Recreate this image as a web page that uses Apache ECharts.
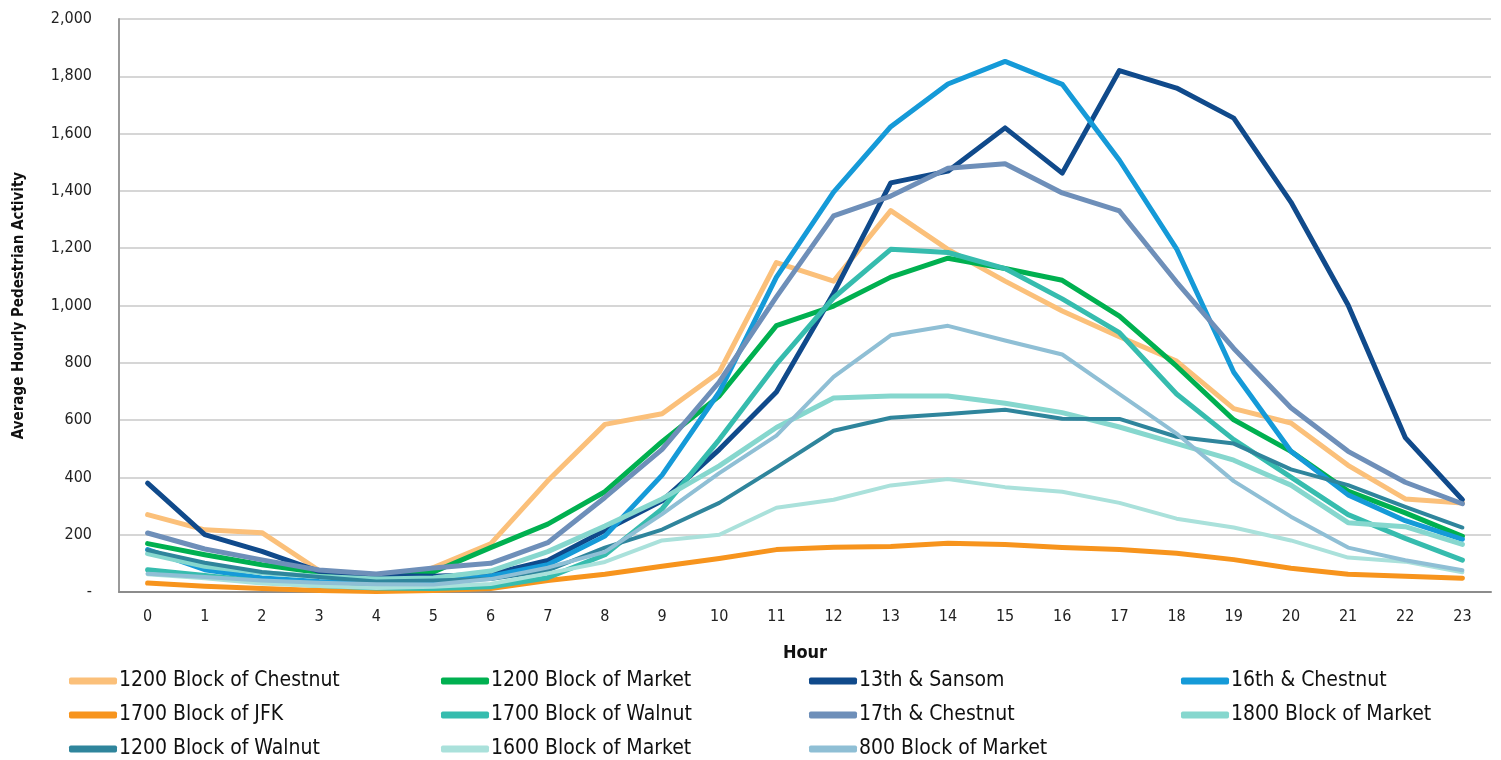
<!DOCTYPE html>
<html>
<head>
<meta charset="utf-8">
<script src="https://cdn.jsdelivr.net/npm/echarts@6/dist/echarts.min.js"></script>
<style>
  html, body { margin: 0; padding: 0; background: #fff; }
  #chart { width: 1501px; height: 760px; }
</style>
</head>
<body>
<div id="chart"></div>
<script>
// hours on the x axis
const hours = ['0','1','2','3','4','5','6','7','8','9','10','11','12','13','14','15','16','17','18','19','20','21','22','23'];

// average hourly pedestrian counts
const chestnut1200 = [270, 217, 207, 75, 5, 85, 168, 388, 585, 622, 767, 1150, 1085, 1331, 1196, 1085, 981, 891, 806, 640, 590, 442, 325, 311];
const market1200   = [169, 130, 95, 68, 49, 70, 155, 237, 350, 525, 684, 930, 998, 1099, 1165, 1129, 1088, 963, 788, 601, 491, 352, 276, 194];
const sansom13     = [380, 200, 142, 72, 58, 55, 62, 110, 215, 318, 497, 698, 1043, 1428, 1469, 1620, 1462, 1820, 1759, 1654, 1361, 1002, 539, 322];
const chestnut16   = [148, 78, 49, 37, 31, 37, 55, 95, 195, 408, 698, 1099, 1396, 1624, 1773, 1852, 1772, 1507, 1198, 767, 491, 339, 249, 184];
const jfk1700      = [31, 20, 12, 5, 2, 5, 12, 40, 62, 90, 117, 148, 156, 159, 170, 166, 155, 148, 135, 113, 83, 62, 55, 48];
const walnut1700   = [78, 58, 37, 23, 14, 12, 18, 50, 130, 290, 532, 795, 1027, 1196, 1185, 1129, 1023, 905, 691, 532, 401, 270, 187, 111];
const chestnut17   = [206, 150, 112, 77, 63, 84, 100, 172, 330, 498, 733, 1030, 1313, 1382, 1479, 1495, 1393, 1330, 1082, 850, 643, 491, 383, 308];
const market1800   = [134, 90, 67, 54, 45, 49, 73, 141, 230, 325, 440, 574, 677, 684, 684, 659, 626, 576, 518, 460, 373, 242, 228, 166];
const walnut1200   = [146, 102, 70, 52, 37, 40, 45, 75, 155, 218, 311, 435, 563, 608, 621, 636, 605, 604, 542, 518, 428, 373, 297, 225];
const market1600   = [62, 48, 30, 21, 14, 18, 28, 65, 105, 180, 200, 294, 322, 372, 394, 366, 350, 311, 256, 225, 180, 120, 106, 69];
const market800    = [64, 52, 40, 32, 27, 26, 45, 85, 140, 272, 415, 546, 751, 896, 929, 878, 829, 691, 553, 387, 263, 155, 111, 76];

const FONT = '"DejaVu Sans Condensed", "Liberation Sans Narrow", "Roboto", sans-serif';

// name, data, colour, width
const lines = [
    ['1200 Block of Chestnut', chestnut1200, '#FBC07A', 5],
    ['1200 Block of Market', market1200, '#00B050', 5],
    ['13th & Sansom', sansom13, '#104A8B', 5],
    ['16th & Chestnut', chestnut16, '#159AD8', 5],
    ['1700 Block of JFK', jfk1700, '#F7941D', 5],
    ['1700 Block of Walnut', walnut1700, '#36BCAE', 5],
    ['17th & Chestnut', chestnut17, '#6E8FB9', 5],
    ['1800 Block of Market', market1800, '#86D7CE', 5],
    ['1200 Block of Walnut', walnut1200, '#2F859C', 4],
    ['1600 Block of Market', market1600, '#AAE1DB', 4],
    ['800 Block of Market', market800, '#8FBFD5', 4],
];

const myChart = echarts.init(document.getElementById('chart'));

// legend is laid out in 4 columns, filled row by row
const legendCols = [[], [], [], []];
lines.forEach((l, i) => legendCols[i % 4].push(l[0]));
const legendLeft = [69, 441, 809, 1181];

const options = {
    animation: false,
    grid: {
        left: 119,
        right: 10,
        top: 19,
        bottom: 168,
    },
    xAxis: {
        type: 'category',
        data: hours,
        boundaryGap: true,
        name: 'Hour',
        nameLocation: 'middle',
        nameGap: 52,
        nameTextStyle: {
            fontFamily: FONT,
            fontSize: 18,
            fontWeight: 'bold',
            color: '#111',
        },
        axisLine: {
            show: true,
            lineStyle: { color: '#8C8C8C', width: 2 },
        },
        axisTick: { show: false },
        axisLabel: {
            margin: 17,
            fontFamily: FONT,
            fontSize: 16,
            color: '#222',
        },
    },
    yAxis: {
        type: 'value',
        min: 0,
        max: 2000,
        interval: 200,
        name: 'Average Hourly Pedestrian Activity',
        nameLocation: 'middle',
        nameGap: 92,
        nameTextStyle: {
            fontFamily: FONT,
            fontSize: 15,
            fontWeight: 'bold',
            color: '#111',
        },
        axisLine: {
            show: true,
            lineStyle: { color: '#9A9A9A', width: 2 },
        },
        axisTick: { show: false },
        splitLine: {
            show: true,
            lineStyle: { color: '#C9C9C9', width: 1.5 },
        },
        axisLabel: {
            margin: 27,
            fontFamily: FONT,
            fontSize: 16,
            color: '#222',
            formatter: v => v === 0 ? '-' : v.toLocaleString('en-US'),
        },
    },
    legend: legendCols.map((col, i) => ({
        data: col,
        orient: 'vertical',
        left: legendLeft[i],
        top: 670,
        itemGap: 12,
        itemWidth: 48,
        itemHeight: 7,
        icon: 'roundRect',
        padding: 0,
        selectedMode: false,
        textStyle: {
            fontFamily: FONT,
            fontSize: 21,
            lineHeight: 22,
            color: '#111',
            padding: [0, 0, 0, -3],
        },
    })),
    series: lines.map(l => ({
        name: l[0],
        type: 'line',
        data: l[1],
        symbol: 'none',
        smooth: false,
        color: l[2],
        lineStyle: { color: l[2], width: l[3], cap: 'round', join: 'round' },
    })),
};

myChart.setOption(options);
</script>
</body>
</html>
